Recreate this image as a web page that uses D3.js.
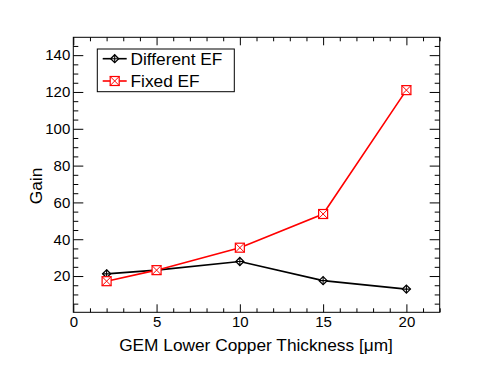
<!DOCTYPE html>
<html><head><meta charset="utf-8">
<script src="https://cdn.jsdelivr.net/npm/d3@7"></script>
<style>body{margin:0;background:#fff}svg{display:block}text{font-family:"Liberation Sans",Arial,Helvetica,sans-serif}</style>
</head><body><div id="c"></div>
<script>
const thickness = [2, 5, 10, 15, 20];
const gainDifferentEF = [21.2, 23.2, 27.9, 17.5, 12.9];
const gainFixedEF = [17.2, 23.2, 35.4, 53.7, 121.0];
const xTicks = [0, 5, 10, 15, 20];
const yTicks = [20, 40, 60, 80, 100, 120, 140];
const seriesNames = ["Different EF", "Fixed EF"];

const W = 489, H = 368;
const m = {l: 73.3, t: 37.3, r: 489 - 439.7, b: 368 - 312.3};
const iw = W - m.l - m.r, ih = H - m.t - m.b;

const svg = d3.select("#c").append("svg").attr("width", W).attr("height", H);
const g = svg.append("g").attr("transform", `translate(${m.l},${m.t})`);

const x = d3.scaleLinear().domain([0, 22]).range([0, iw]);
const y = d3.scaleLinear().domain([0.3, 149.7]).range([ih, 0]);

const xMinor = d3.range(0, 23, 1).filter(v => !xTicks.includes(v));
const yMinor = d3.range(5, 150, 5).filter(v => !yTicks.includes(v));

function styleAxis(sel) {
  sel.select(".domain").remove();
  sel.selectAll("line").attr("stroke", "#000").attr("stroke-width", 1);
  sel.selectAll("text").attr("font-size", 15).attr("fill", "#000");
}

// bottom
g.append("g").attr("transform", `translate(0,${ih})`)
  .call(d3.axisBottom(x).tickValues(xTicks).tickSize(-8).tickPadding(6).tickFormat(d3.format("d")))
  .call(styleAxis).selectAll("text").attr("dy", "0.71em").attr("y", 4);
g.append("g").attr("transform", `translate(0,${ih})`)
  .call(d3.axisBottom(x).tickValues(xMinor).tickSize(-4).tickFormat(""))
  .call(styleAxis);
// top
g.append("g")
  .call(d3.axisTop(x).tickValues(xTicks).tickSize(-8).tickFormat(""))
  .call(styleAxis);
g.append("g")
  .call(d3.axisTop(x).tickValues(xMinor).tickSize(-4).tickFormat(""))
  .call(styleAxis);
// left
g.append("g")
  .call(d3.axisLeft(y).tickValues(yTicks).tickSize(-10).tickPadding(3).tickFormat(d3.format("d")))
  .call(styleAxis).selectAll("text").attr("x", -3);
g.append("g")
  .call(d3.axisLeft(y).tickValues(yMinor).tickSize(-5).tickFormat(""))
  .call(styleAxis);
// right
g.append("g").attr("transform", `translate(${iw},0)`)
  .call(d3.axisRight(y).tickValues(yTicks).tickSize(-10).tickFormat(""))
  .call(styleAxis);
g.append("g").attr("transform", `translate(${iw},0)`)
  .call(d3.axisRight(y).tickValues(yMinor).tickSize(-5).tickFormat(""))
  .call(styleAxis);

// frame
g.append("rect").attr("width", iw).attr("height", ih)
  .attr("fill", "none").attr("stroke", "#000").attr("stroke-width", 1);

// axis titles
svg.append("text").attr("x", 256).attr("y", 351).attr("text-anchor", "middle")
  .attr("font-size", 17.3).text("GEM Lower Copper Thickness [\u03BCm]");
svg.append("text").attr("transform", "translate(42,186) rotate(-90)").attr("text-anchor", "middle")
  .attr("font-size", 17.3).text("Gain");

const colors = ["#000000", "#ff0000"];
const series = [gainDifferentEF, gainFixedEF];

function diamond(sel, cx, cy, c) {
  const s = 4;
  sel.append("path").attr("d", `M${cx},${cy-s}L${cx+s},${cy}L${cx},${cy+s}L${cx-s},${cy}Z`)
    .attr("fill", "#fff").attr("stroke", c).attr("stroke-width", 1.3);
  sel.append("path").attr("d", `M${cx-s},${cy}L${cx+s},${cy}M${cx},${cy-s}L${cx},${cy+s}`)
    .attr("stroke", c).attr("stroke-width", 1.1);
}
function xsquare(sel, cx, cy, c) {
  const s = 4.5;
  sel.append("rect").attr("x", cx - s).attr("y", cy - s).attr("width", 2*s).attr("height", 2*s)
    .attr("fill", "#fff").attr("stroke", c).attr("stroke-width", 1.2);
  sel.append("path").attr("d", `M${cx-s},${cy-s}L${cx+s},${cy+s}M${cx+s},${cy-s}L${cx-s},${cy+s}`)
    .attr("stroke", c).attr("stroke-width", 1);
}
const markers = [diamond, xsquare];

const line = d3.line().x((d, i) => x(thickness[i])).y(d => y(d));
series.forEach((s, k) => {
  g.append("path").datum(s).attr("d", line).attr("fill", "none")
    .attr("stroke", colors[k]).attr("stroke-width", 1.6);
});
series.forEach((s, k) => {
  const mg = g.append("g");
  s.forEach((v, i) => markers[k](mg, x(thickness[i]), y(v), colors[k]));
});

// legend
const lg = svg.append("g");
lg.append("rect").attr("x", 97.3).attr("y", 49).attr("width", 137).attr("height", 42.7)
  .attr("fill", "#fff").attr("stroke", "#000").attr("stroke-width", 1);
const ly = [58.7, 81];
seriesNames.forEach((n, k) => {
  lg.append("line").attr("x1", 102.7).attr("x2", 126.7).attr("y1", ly[k]).attr("y2", ly[k])
    .attr("stroke", colors[k]).attr("stroke-width", 1.6);
  markers[k](lg, 114.7, ly[k], colors[k]);
  lg.append("text").attr("x", 130.5).attr("y", ly[k]).attr("dy", "0.35em")
    .attr("font-size", 17.3).text(n);
});
</script></body></html>
